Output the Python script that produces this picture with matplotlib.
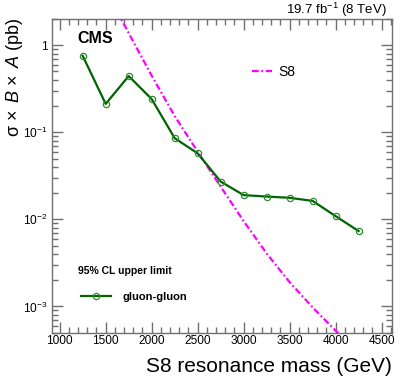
import numpy as np
import matplotlib
matplotlib.use("Agg")
import matplotlib.pyplot as plt
from matplotlib.ticker import FixedLocator, FixedFormatter, MultipleLocator, LogLocator, NullFormatter
from matplotlib.lines import Line2D

plt.rcParams['font.family'] = ['Liberation Sans', 'DejaVu Sans']
plt.rcParams['mathtext.fontset'] = 'custom'
plt.rcParams['mathtext.rm'] = 'Liberation Sans'
plt.rcParams['mathtext.it'] = 'Liberation Sans:italic'
plt.rcParams['mathtext.bf'] = 'Liberation Sans:bold'

# observed 95% CL limit, gluon-gluon
mass = [1250, 1500, 1750, 2000, 2250, 2500, 2750, 3000, 3250, 3500, 3750, 4000, 4250]
limit = [0.755, 0.212, 0.442, 0.241, 0.0857, 0.0573, 0.0272, 0.0190, 0.0183, 0.0177, 0.0163, 0.0109, 0.00735]

# S8 theory curve
s8_mass = [1500, 1750, 2000, 2250, 2500, 2750, 3000, 3250, 3500, 3750, 4000, 4250]
s8_xsec = [4.3, 1.38, 0.447, 0.154, 0.0598, 0.0238, 0.00955, 0.00407, 0.00190, 0.000977, 0.000528, 0.000295]

W, H = 399, 383
fig = plt.figure(figsize=(W / 100, H / 100), dpi=100)
ax = fig.add_axes([51.7 / W, 1 - 332.7 / H, 340 / W, 313.7 / H])

green = '#006400'
ax.plot(s8_mass, s8_xsec, color='#ff00ff', lw=1.6, dashes=(3, 1.2, 0.8, 1.2))
ax.plot(mass, limit, color=green, lw=1.6, marker='o', ms=4.5, mfc='none',
        mec='#2e8b2e', mew=0.9)

ax.set_yscale('log')
ax.set_xlim(913, 4610)
ax.set_ylim(5e-4, 2.0)

ax.xaxis.set_major_locator(MultipleLocator(500))
ax.xaxis.set_minor_locator(MultipleLocator(100))
ax.yaxis.set_major_locator(FixedLocator([1e-3, 1e-2, 1e-1, 1]))
ax.yaxis.set_major_formatter(FixedFormatter([r'$10^{-3}$', r'$10^{-2}$', r'$10^{-1}$', '1']))
ax.yaxis.set_minor_locator(LogLocator(base=10, subs=np.arange(2, 10)))
ax.yaxis.set_minor_formatter(NullFormatter())

frame_col = '#707070'
for s in ax.spines.values():
    s.set_color(frame_col)
    s.set_linewidth(1.0)
ax.tick_params(which='both', direction='in', top=True, right=True, color=frame_col,
               labelsize=8.6, width=1.0)
ax.tick_params(which='major', length=8)
ax.tick_params(which='minor', length=4)
ax.tick_params(axis='x', pad=2)
ax.tick_params(axis='y', pad=3)

fig.text(391.7 / W, 1 - 366 / H, 'S8 resonance mass (GeV)', ha='right', va='center', fontsize=15)
fig.text(15 / W, 1 - 18 / H, r'σ$\,\times\;B\,\times\;A$ (pb)', rotation=90,
         ha='center', va='top', fontsize=13)
fig.text(386.7 / W, 1 - 10 / H, r'19.7 fb$^{-1}$ (8 TeV)', ha='right', va='center', fontsize=9.5)

ax.text(0.075, 0.939, 'CMS', transform=ax.transAxes, fontsize=11.5, fontweight='bold',
        ha='left', va='center')
ax.text(0.077, 0.198, '95% CL upper limit', transform=ax.transAxes, fontsize=7.5,
        fontweight='bold', ha='left', va='center')

h_s8 = Line2D([], [], color='#ff00ff', lw=1.6, dashes=(3, 1.2, 0.8, 1.2))
leg1 = ax.legend([h_s8], ['S8'], loc='center left', bbox_to_anchor=(0.588, 0.831),
                 frameon=False, fontsize=10, handlelength=1.5, handletextpad=0.4,
                 borderpad=0, borderaxespad=0)
ax.add_artist(leg1)

h_gg = Line2D([], [], color=green, lw=1.6, marker='o', ms=4.5, mfc='none', mec='#2e8b2e', mew=0.9)
ax.legend([h_gg], ['gluon-gluon'], loc='center left', bbox_to_anchor=(0.085, 0.115),
          frameon=False, prop={'size': 8, 'weight': 'bold'}, handlelength=2.7,
          handletextpad=1.1, borderpad=0, borderaxespad=0)

fig.savefig('out.png', dpi=100)
